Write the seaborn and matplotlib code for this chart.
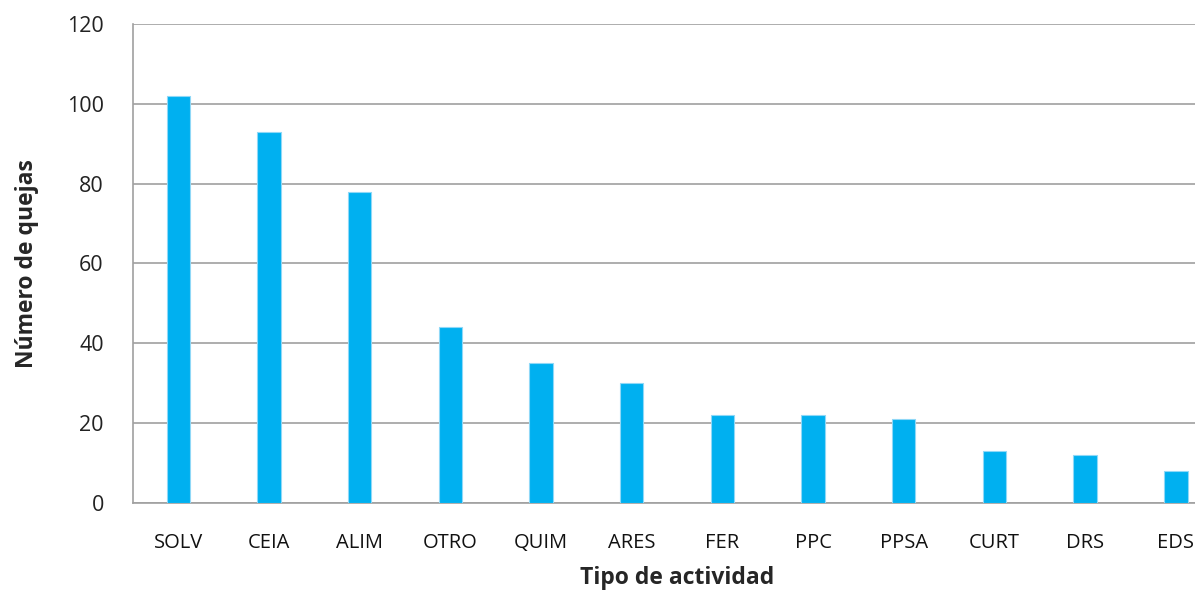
import numpy as np
import pandas as pd
import seaborn as sns
import matplotlib.pyplot as plt

actividades = ["SOLV", "CEIA", "ALIM", "OTRO", "QUIM", "ARES", "FER", "PPC", "PPSA", "CURT", "DRS", "EDS"]
quejas = [102, 93, 78, 44, 35, 30, 22, 22, 21, 13, 12, 8]

df = pd.DataFrame({"Tipo de actividad": actividades, "Número de quejas": quejas})

sns.set_style("white")
plt.rcParams['font.family'] = ['Open Sans', 'DejaVu Sans']

fig = plt.figure(figsize=(11.95, 6.06), dpi=100)
# el area del grafico sigue un poco mas alla del borde derecho, como en el original
ax = fig.add_axes([0.1113, 0.1705, 0.9105, 0.7899])

sns.barplot(data=df, x="Tipo de actividad", y="Número de quejas", color="#00B0F0",
            saturation=1, width=0.26, edgecolor="#8fd8f7", linewidth=0.8, ax=ax, zorder=3)

ax.set_ylim(0, 120)
ax.set_xlim(-0.5, len(actividades) - 0.5)
ax.set_yticks(np.arange(0, 121, 20))
ax.yaxis.grid(True, color="#a0a0a0", linewidth=1.2)
ax.set_axisbelow(True)

for lado in ["top", "right"]:
    ax.spines[lado].set_visible(False)
ax.spines["left"].set_color("#a0a0a0")
ax.spines["left"].set_linewidth(1.2)
ax.spines["bottom"].set_color("#a0a0a0")
ax.spines["bottom"].set_linewidth(1.2)

ax.tick_params(axis="y", length=8, width=1.2, color="#a0a0a0", pad=13, labelsize=15.5, labelcolor="#222222")
ax.tick_params(axis="x", length=0, pad=22, labelsize=14.5, labelcolor="#111111")

ax.set_xlabel("Tipo de actividad", fontsize=16.5, fontweight="bold", labelpad=9)
ax.set_ylabel("Número de quejas", fontsize=16.5, fontweight="bold", labelpad=20)

fig.savefig("out.png", dpi=100)
